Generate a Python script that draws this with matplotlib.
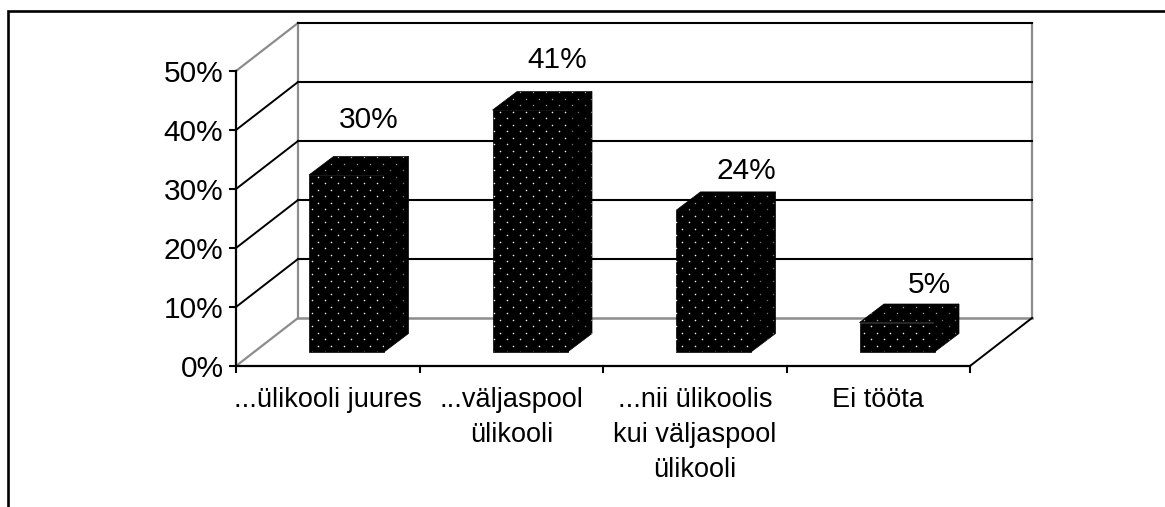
import numpy as np
import matplotlib
matplotlib.use("Agg")
import matplotlib.pyplot as plt
from matplotlib.patches import Polygon

categories = ["...ülikooli juures", "...väljaspool\nülikooli", "...nii ülikoolis\nkui väljaspool\nülikooli", "Ei tööta"]
values = [30, 41, 24, 5]
value_ticks = [0, 10, 20, 30, 40, 50]
label_dx = [22, 27, 33, 32]          # label offset from each bar centre
label_dy = [-36, -32, -21, -19]      # label offset above each bar top

plt.rcParams['font.family'] = 'Liberation Sans'
W, H = 1165, 507
fig = plt.figure(figsize=(W/100, H/100), dpi=100)
ax = fig.add_axes([0, 0, 1, 1])
ax.set_xlim(0, W); ax.set_ylim(H, 0); ax.axis('off')

X0, Y0 = 236, 366          # front-left floor corner
STEP = 183.5               # category width
PER = 5.9                  # pixels per percent
DX, DY = 62, 48            # depth of the chart box
BX, BY = 24.5, 18.5        # depth of a bar
BW = 75                    # bar width
n = len(categories)
XR = X0 + n*STEP
yf = lambda v: Y0 - v*PER
GREY = '#8c8c8c'

# walls
ax.plot([X0+DX, X0+DX], [yf(0)-DY, yf(50)-DY], color=GREY, lw=1.6, zorder=1)
ax.plot([XR+DX, XR+DX], [yf(0)-DY, yf(50)-DY], color=GREY, lw=1.6, zorder=1)
ax.plot([X0+DX, XR+DX], [yf(0)-DY]*2, color=GREY, lw=1.8, zorder=1)
ax.plot([X0, X0+DX], [yf(0), yf(0)-DY], color=GREY, lw=1.6, zorder=1)
ax.plot([X0, X0+DX], [yf(50), yf(50)-DY], color=GREY, lw=1.6, zorder=1)
ax.plot([XR, XR+DX], [yf(0), yf(0)-DY], color='black', lw=1.4, zorder=1)
for t in value_ticks[1:]:
    ax.plot([X0+DX, XR+DX], [yf(t)-DY]*2, color='black', lw=1.5, zorder=1)
    if t < 50:
        ax.plot([X0, X0+DX], [yf(t), yf(t)-DY], color='black', lw=1.4, zorder=1)

# axes
ax.plot([X0, X0], [yf(0), yf(50)], color='black', lw=1.6, zorder=2)
ax.plot([X0, XR], [yf(0), yf(0)], color='black', lw=1.6, zorder=2)
for t in value_ticks:
    ax.plot([X0-6, X0], [yf(t)]*2, color='black', lw=1.5, zorder=2)
    ax.text(X0-12.5, yf(t)+3, f"{t}%", ha='right', va='center', fontsize=21.5, color='black')
for i in range(n+1):
    ax.plot([X0+i*STEP]*2, [yf(0), yf(0)+6], color='black', lw=1.5, zorder=2)

# bars
def dots(poly, colour, size):
    xmin, ymin = poly.min(axis=0); xmax, ymax = poly.max(axis=0)
    patch = Polygon(poly, closed=True, transform=ax.transData, fc='none', ec='none')
    ax.add_patch(patch)
    xs, ys = [], []
    rows = np.arange(np.floor((ymin-183.3)/6.5)-1, np.ceil((ymax-183.3)/6.5)+1)
    cols = np.arange(np.floor((xmin-311.7)/13)-1, np.ceil((xmax-311.7)/13)+1)
    for r in rows:
        off = 6.5 if int(r) % 2 else 0
        xs += list(311.7 + cols*13 + off); ys += [183.3 + r*6.5]*len(cols)
    sc = ax.scatter(xs, ys, s=size, c=colour, linewidths=0, zorder=4)
    sc.set_clip_path(patch)

for i, v in enumerate(values):
    l = X0 + i*STEP + 73
    r = l + BW
    b = yf(0) - 14
    t = b - v*PER
    front = np.array([[l, b], [r, b], [r, t], [l, t]])
    top = np.array([[l, t], [r, t], [r+BX, t-BY], [l+BX, t-BY]])
    side = np.array([[r, b], [r+BX, b-BY], [r+BX, t-BY], [r, t]])
    for p in (front, top, side):
        ax.add_patch(Polygon(p, closed=True, fc='black', ec='black', lw=0.5, zorder=3))
    dots(front, '#f0f0f0', 1.3)
    dots(top, '#a0a0a0', 1.1)
    dots(side, '#707070', 1.1)
    ax.text((l+r)/2 + label_dx[i], t - BY + label_dy[i], f"{v}%", ha='center', va='center', fontsize=21.5, color='black', zorder=5)

# category labels
for i, c in enumerate(categories):
    ax.text(X0 + (i+0.5)*STEP, 387, c, ha='center', va='top', fontsize=19.5, linespacing=1.44, color='black')

# frame (open at right and bottom)
ax.plot([7.5, 7.5, W], [H, 11, 11], color='black', lw=1.9, solid_joinstyle='miter', zorder=6)

fig.savefig('out.png', dpi=100, facecolor='white')
